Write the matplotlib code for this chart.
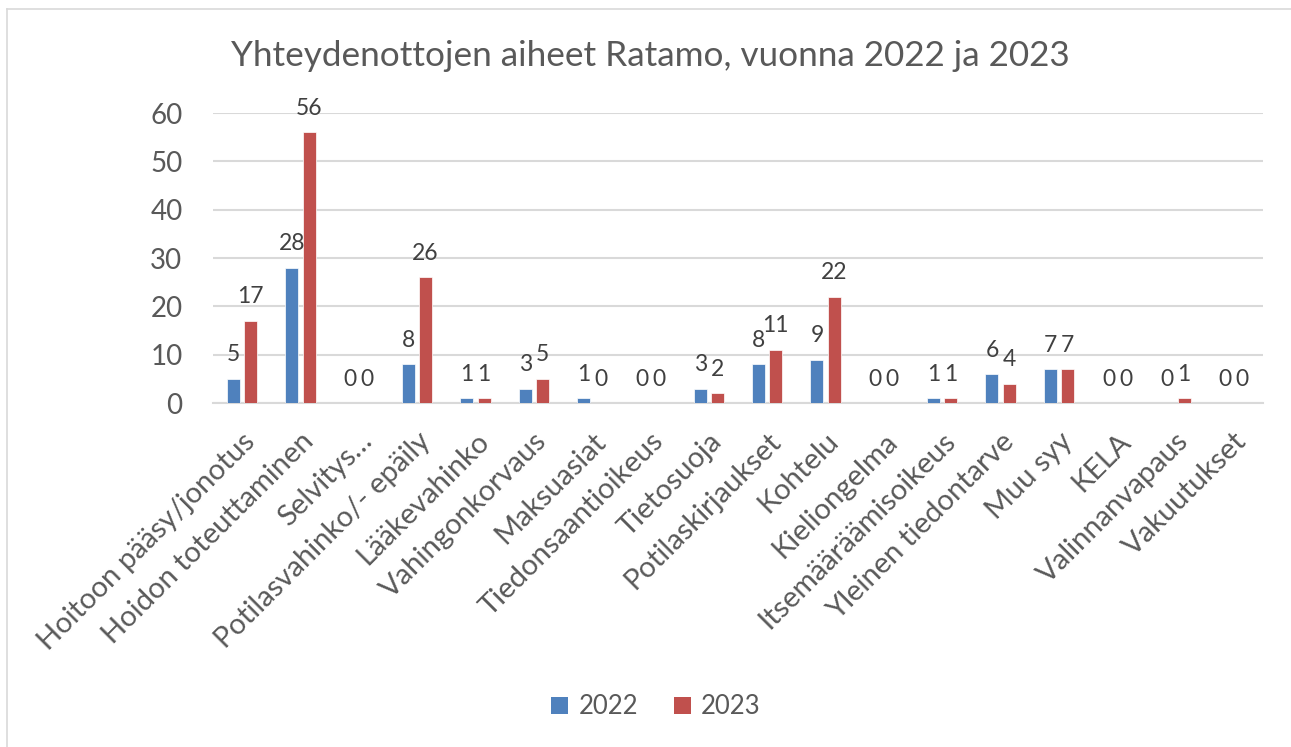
import matplotlib
matplotlib.use("Agg")
import matplotlib.pyplot as plt
import numpy as np
from matplotlib.patches import Patch
from matplotlib.lines import Line2D

categories = ["Hoitoon pääsy/jonotus", "Hoidon toteuttaminen", "Selvitys…",
              "Potilasvahinko/- epäily", "Lääkevahinko", "Vahingonkorvaus",
              "Maksuasiat", "Tiedonsaantioikeus", "Tietosuoja", "Potilaskirjaukset",
              "Kohtelu", "Kieliongelma", "Itsemääräämisoikeus", "Yleinen tiedontarve",
              "Muu syy", "KELA", "Valinnanvapaus", "Vakuutukset"]
values_2022 = [5, 28, 0, 8, 1, 3, 1, 0, 3, 8, 9, 0, 1, 6, 7, 0, 0, 0]
values_2023 = [17, 56, 0, 26, 1, 5, 0, 0, 2, 11, 22, 0, 1, 4, 7, 0, 1, 0]
series_names = ["2022", "2023"]
title = "Yhteydenottojen aiheet Ratamo, vuonna 2022 ja 2023"
yticks = [0, 10, 20, 30, 40, 50, 60]

plt.rcParams['font.family'] = ['Lato', 'DejaVu Sans']
TXT = "#595959"
BLUE = "#4F81BD"
RED = "#C0504D"
GRID = "#D9D9D9"

W, H = 1291, 747
fig = plt.figure(figsize=(W / 100, H / 100), dpi=100)
ax = fig.add_axes([213 / W, 1 - 403 / H, (1263 - 213) / W, (403 - 113) / H])

x = np.arange(len(categories))
off = 0.146
bw = 0.223
b1 = ax.bar(x - off, values_2022, bw, color=BLUE, edgecolor="white", linewidth=0.5, zorder=3)
b2 = ax.bar(x + off, values_2023, bw, color=RED, edgecolor="white", linewidth=0.5, zorder=3)

for bars, vals in ((b1, values_2022), (b2, values_2023)):
    for rect, v in zip(bars, vals):
        ax.annotate(str(v), (rect.get_x() + rect.get_width() / 2, v),
                    xytext=(0, 12.5), textcoords="offset points",
                    ha="center", va="baseline", fontsize=16.5, color="#404040")

ax.set_xlim(-0.5, len(categories) - 0.5)
ax.set_ylim(0, 60)
ax.set_yticks(yticks)
ax.set_yticklabels([str(t) for t in yticks])
ax.yaxis.grid(True, color=GRID, linewidth=1.5, zorder=0)
ax.set_axisbelow(True)
for s in ("top", "right", "left"):
    ax.spines[s].set_visible(False)
ax.spines["bottom"].set_color(GRID)
ax.spines["bottom"].set_linewidth(1.5)
ax.tick_params(axis="y", length=0, pad=22, labelsize=20, labelcolor=TXT)
ax.tick_params(axis="x", length=0, pad=18, labelsize=21, labelcolor=TXT)
ax.set_xticks(x)
ax.set_xticklabels(categories, rotation=45, ha="right", va="top", rotation_mode="anchor")

fig.text(650 / W, 1 - 66 / H, title, ha="center", va="baseline", fontsize=25.3, color=TXT)

handles = [Patch(facecolor=BLUE), Patch(facecolor=RED)]
fig.legend(handles, series_names, loc="center", bbox_to_anchor=(656 / W, 1 - 707 / H),
           ncol=2, frameon=False, fontsize=18.5, labelcolor=TXT,
           handlelength=0.65, handleheight=0.65, handletextpad=0.4, columnspacing=1.4)

# chart border (left and top visible)
fig.add_artist(Line2D([7 / W, 7 / W], [0, 1 - 9 / H], color=GRID, linewidth=1.2))
fig.add_artist(Line2D([7 / W, 1], [1 - 9 / H, 1 - 9 / H], color=GRID, linewidth=1.2))

fig.savefig("out.png", dpi=100, facecolor="white")
